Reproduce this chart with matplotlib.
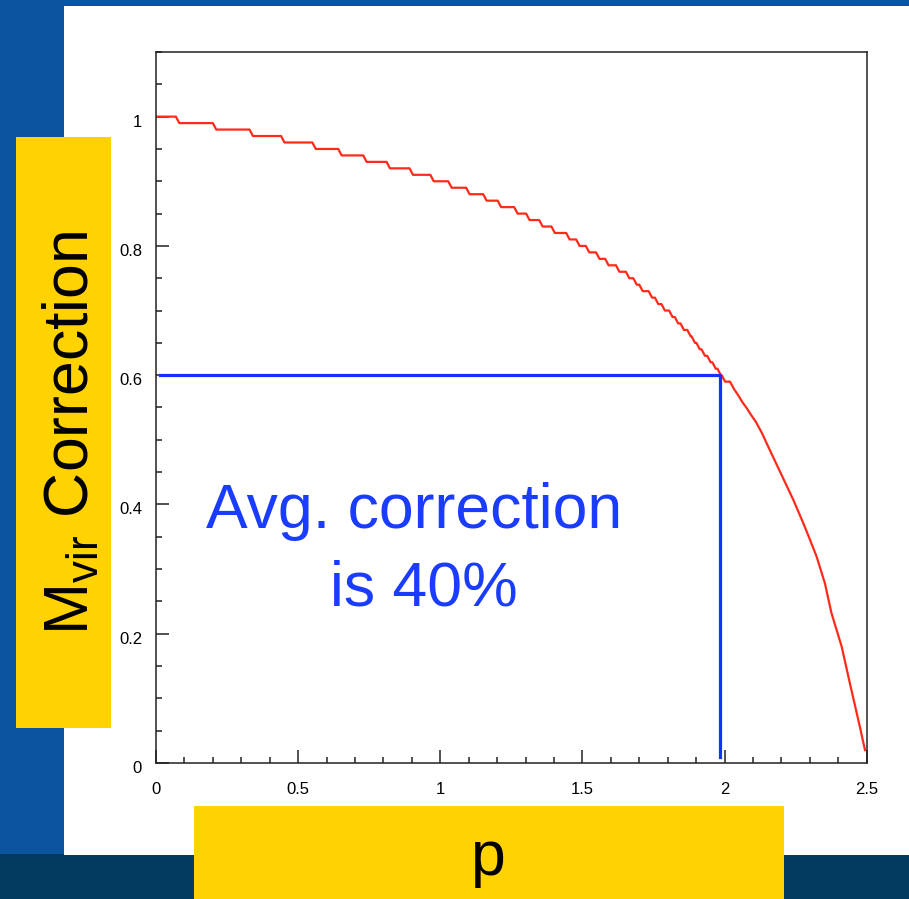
import matplotlib
matplotlib.use("Agg")
import matplotlib.pyplot as plt
from matplotlib.patches import Rectangle
from matplotlib.ticker import MultipleLocator
from matplotlib.transforms import ScaledTranslation

plt.rcParams['font.family'] = ['Liberation Sans', 'DejaVu Sans']
plt.rcParams['mathtext.fontset'] = 'custom'
plt.rcParams['mathtext.rm'] = 'Liberation Sans'

# staircase part of the correction curve: p where it drops, level after the drop
step_p = [0.076, 0.206, 0.335, 0.446, 0.556, 0.647, 0.735, 0.817, 0.898, 0.971,
          1.034, 1.097, 1.157, 1.208, 1.266, 1.308, 1.354, 1.397, 1.449, 1.484,
          1.518, 1.554, 1.586, 1.624, 1.659, 1.685, 1.706, 1.739, 1.761, 1.784,
          1.811, 1.831, 1.851, 1.875, 1.890, 1.907, 1.925, 1.945, 1.963, 1.981,
          1.996]
step_lvl = [0.99, 0.98, 0.97, 0.96, 0.95, 0.94, 0.93, 0.92, 0.91, 0.90,
            0.89, 0.88, 0.87, 0.86, 0.85, 0.84, 0.83, 0.82, 0.81, 0.80,
            0.79, 0.78, 0.77, 0.76, 0.75, 0.74, 0.73, 0.72, 0.71, 0.70,
            0.69, 0.68, 0.67, 0.66, 0.65, 0.64, 0.63, 0.62, 0.61, 0.60,
            0.59]
start_p, start_lvl = 0.0, 1.00

# steep tail
tail_p = [2.019, 2.034, 2.048, 2.063, 2.078, 2.094, 2.110, 2.132, 2.154, 2.198,
          2.242, 2.277, 2.300, 2.324, 2.353, 2.376, 2.412, 2.441, 2.476, 2.494]
tail_c = [0.590, 0.578, 0.569, 0.558, 0.549, 0.538, 0.528, 0.510, 0.489, 0.448,
          0.407, 0.371, 0.346, 0.319, 0.278, 0.232, 0.180, 0.123, 0.056, 0.020]

# average correction marker
avg_p = [0.015, 1.984, 1.984]
avg_c = [0.60, 0.60, 0.01]

xs = [start_p]
ys = [start_lvl]
prev = start_lvl
half = 0.006
for p, lv in zip(step_p, step_lvl):
    xs += [p - half, p + half]
    ys += [prev, lv]
    prev = lv
xs += tail_p
ys += tail_c

W, H = 909, 899
fig = plt.figure(figsize=(W / 100, H / 100), dpi=100)
fig.patch.set_facecolor('#0b55a0')

def box(x0, y0, x1, y1, color):
    # rectangle given in pixel coords, origin top-left
    fig.add_artist(Rectangle((x0 / W, 1 - y1 / H), (x1 - x0) / W, (y1 - y0) / H,
                             transform=fig.transFigure, color=color, lw=0, zorder=0))

box(0, 854, W, H, '#033b5e')
box(64, 6, W, 855, 'white')
box(16, 137, 111, 728, '#ffd200')
box(194, 806, 784, H, '#ffd200')

ax = fig.add_axes([156 / W, 1 - 763 / H, (866.7 - 156) / W, (763 - 52) / H])
ax.plot(xs, ys, color='#ff2a1a', lw=1.6)
ax.plot(avg_p, avg_c, color='#1432ff', lw=2.3)

ax.set_xlim(0, 2.5)
ax.set_ylim(0, 1.1)
ax.xaxis.set_major_locator(MultipleLocator(0.5))
ax.xaxis.set_minor_locator(MultipleLocator(0.1))
ax.yaxis.set_major_locator(MultipleLocator(0.2))
ax.yaxis.set_minor_locator(MultipleLocator(0.05))
ax.xaxis.set_major_formatter(lambda v, pos: f"{v:g}")
ax.yaxis.set_major_formatter(lambda v, pos: f"{v:g}")
ax.tick_params(which='both', direction='in', top=False, right=False,
               width=1.1, color='#222222', labelsize=12)
ax.tick_params(which='major', length=9.2)
ax.tick_params(which='minor', length=4.6)
ax.tick_params(axis='x', pad=13.5)
ax.tick_params(axis='y', pad=10)
for s in ax.spines.values():
    s.set_linewidth(1.1)
    s.set_color('#222222')

shift = ScaledTranslation(0, -0.04, fig.dpi_scale_trans)
for lab in ax.get_yticklabels():
    lab.set_transform(lab.get_transform() + shift)

fig.text(414 / W, 1 - 528 / H, "Avg. correction", ha='center', va='baseline',
         size=45, color='#1a3cff')
fig.text(424 / W, 1 - 605 / H, "is 40%", ha='center', va='baseline',
         size=45, color='#1a3cff')

fig.text(72 / W, 1 - 433 / H, r"M$_\mathregular{vir}$ Correction", rotation=90,
         ha='center', va='center', size=45, color='black')
fig.text(488 / W, 1 - 875 / H, "p", ha='center', va='baseline', size=45,
         color='black')

fig.savefig("out.png", dpi=100, facecolor=fig.get_facecolor())
